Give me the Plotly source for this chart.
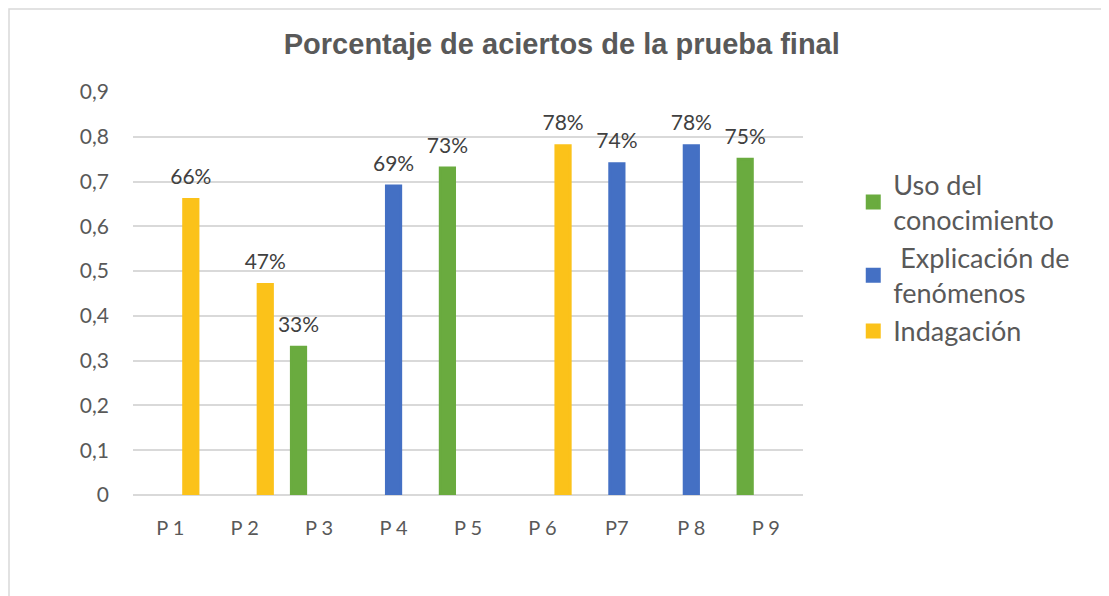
import plotly.graph_objects as go

categories = ["P 1", "P 2", "P 3", "P 4", "P 5", "P 6", "P7", "P 8", "P 9"]
uso_conocimiento = [None, None, 0.33, None, 0.73, None, None, None, 0.75]
explicacion = [None, None, None, 0.69, None, None, 0.74, 0.78, None]
indagacion = [0.66, 0.47, None, None, None, 0.78, None, None, None]
series_names = ["Uso del<br>conocimiento", " Explicación de<br>fenómenos", "Indagación"]
series_colors = ["#6aab3f", "#4470c4", "#fbc21a"]
y_ticks = [0, 0.1, 0.2, 0.3, 0.4, 0.5, 0.6, 0.7, 0.8, 0.9]
y_tick_text = ["0", "0,1", "0,2", "0,3", "0,4", "0,5", "0,6", "0,7", "0,8", "0,9"]

def labels(vals):
    return [f"<span style='font-size:21px'>{round(v*100)}%</span><br> " if v is not None else ""
            for v in vals]

W, H = 1101, 588
L, R, T, B = 125, 306, 84, 101
PW, PH = W - L - R, H - T - B

fig = go.Figure()
for name, vals, col in zip(series_names, [uso_conocimiento, explicacion, indagacion], series_colors):
    fig.add_trace(go.Bar(
        x=categories, y=vals, name=name,
        marker=dict(color=col, line=dict(width=3, color=col)),
        text=labels(vals), textposition="outside", cliponaxis=False,
        constraintext="none",
        textfont=dict(family="Lato", size=8, color="#404040"),
    ))

fig.update_layout(
    width=W, height=H,
    paper_bgcolor="white", plot_bgcolor="white",
    margin=dict(l=L, r=R, t=T, b=B),
    barmode="group", bargap=0.17, bargroupgap=0.31,
    title=dict(text="<b>Porcentaje de aciertos de la prueba final</b>",
               font=dict(family="Liberation Sans", size=29, color="#595959"),
               x=0.503, xanchor="center", y=0.939, yanchor="middle"),
    legend=dict(x=1.075, xanchor="left", y=0.83, yanchor="top",
                font=dict(family="Lato", size=27, color="#595959"),
                tracegroupgap=0, itemwidth=30, bgcolor="rgba(0,0,0,0)"),
    showlegend=True,
    xaxis=dict(tickfont=dict(family="Lato", size=20, color="#595959"),
               showgrid=False, ticks="", showline=False, ticklabelstandoff=19),
    yaxis=dict(range=[0, 0.9], tickvals=y_ticks, ticktext=y_tick_text,
               tickfont=dict(family="Lato", size=21, color="#595959"),
               showgrid=True, gridcolor="#d9d9d9", gridwidth=1.5,
               zeroline=True, zerolinecolor="#d9d9d9", zerolinewidth=2,
               ticks="", ticklabelstandoff=23),
    shapes=[dict(type="rect", xref="paper", yref="paper",
                 x0=-(L - 1) / PW, x1=1.6, y0=-0.5, y1=1 + (T - 1) / PH,
                 line=dict(color="#d9d9d9", width=1.5), fillcolor="rgba(0,0,0,0)", layer="below")],
)
fig.write_html("out.html")
